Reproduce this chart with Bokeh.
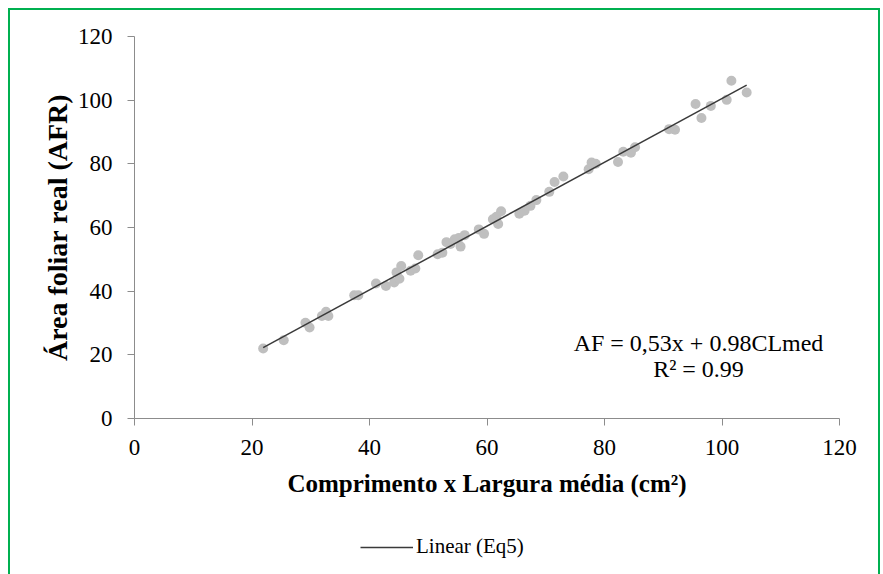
import numpy as np
from bokeh.plotting import figure
from bokeh.layouts import column
from bokeh.models import Range1d, FixedTicker, Label, Legend, LegendItem, ColumnDataSource
from bokeh.embed import file_html
from bokeh.resources import INLINE

# Data
cl_med = [21.9, 25.4, 29.1, 29.8, 31.9, 32.6, 33.0, 37.4, 38.1, 41.1, 42.8, 44.2,
          44.6, 45.4, 45.1, 47.0, 47.8, 48.3, 51.6, 52.4, 53.1, 53.8, 54.5, 55.2,
          55.5, 56.2, 58.6, 59.5, 61.0, 61.6, 61.9, 62.4, 65.5, 66.4, 67.4, 68.4,
          70.6, 71.5, 73.0, 77.3, 77.8, 78.5, 82.3, 83.2, 84.5, 85.2, 91.0, 92.0,
          95.5, 96.5, 98.1, 100.8, 101.6, 104.2]
afr = [22.0, 24.6, 30.1, 28.6, 32.2, 33.5, 32.2, 38.7, 38.7, 42.4, 41.6, 42.7,
       45.9, 47.9, 43.9, 46.4, 47.1, 51.3, 51.6, 52.1, 55.4, 54.8, 56.3, 56.7,
       54.0, 57.6, 59.4, 58.0, 62.6, 63.4, 61.1, 65.1, 64.3, 65.3, 66.8, 68.6,
       71.2, 74.3, 76.0, 78.3, 80.4, 80.0, 80.6, 83.8, 83.5, 85.2, 90.9, 90.7,
       98.8, 94.4, 98.2, 100.1, 106.1, 102.4]
axis_ticks = [0, 20, 40, 60, 80, 100, 120]
equation_text = "AF = 0,53x + 0.98CLmed"
r2_text = "R\u00b2 = 0.99"
legend_label = "Linear (Eq5)"
x_title = "Comprimento x Largura média (cm\u00b2)"
y_title = "Área foliar real (AFR)"

slope, intercept = np.polyfit(cl_med, afr, 1)
x_fit = [min(cl_med), max(cl_med)]
y_fit = [slope * v + intercept for v in x_fit]

SERIF = "Liberation Serif"
LINE_COLOR = "#3a3a3a"

p = figure(width=868, height=500, output_backend="svg", toolbar_location=None,
           x_range=Range1d(0, 120), y_range=Range1d(0, 120),
           min_border_left=124, min_border_right=39, min_border_top=26, min_border_bottom=92)
p.outline_line_color = None
p.xgrid.visible = False
p.ygrid.visible = False
p.background_fill_color = "white"
p.border_fill_color = "white"

for ax in (p.xaxis[0], p.yaxis[0]):
    ax.ticker = FixedTicker(ticks=axis_ticks)
    ax.axis_line_color = "#8c8c8c"
    ax.major_tick_line_color = "#8c8c8c"
    ax.major_tick_in = 0
    ax.major_tick_out = 7
    ax.minor_tick_line_color = None
    ax.major_label_text_font = SERIF
    ax.major_label_text_font_size = "23px"
    ax.major_label_text_color = "black"
    ax.axis_label_text_font = SERIF
    ax.axis_label_text_font_style = "bold"
    ax.axis_label_text_color = "black"

p.xaxis.axis_label = x_title
p.xaxis.axis_label_text_font_size = "25px"
p.xaxis.major_label_standoff = 14
p.xaxis.axis_label_standoff = 12
p.yaxis.axis_label = y_title
p.yaxis.axis_label_text_font_size = "28px"
p.yaxis.major_label_standoff = 15
p.yaxis.axis_label_standoff = 2

src = ColumnDataSource(dict(x=cl_med, y=afr))
p.scatter("x", "y", source=src, size=10, fill_color="#bfbfbf", line_color=None)
p.line(x_fit, y_fit, line_color=LINE_COLOR, line_width=1.5)

p.add_layout(Label(x=96.0, y=23.8, text=equation_text, text_align="center",
                   text_baseline="middle", text_font=SERIF, text_font_size="24px",
                   text_color="black"))
p.add_layout(Label(x=96.0, y=15.7, text=r2_text, text_align="center",
                   text_baseline="middle", text_font=SERIF, text_font_size="24px",
                   text_color="black"))

# Legend strip below the chart
pl = figure(width=868, height=64, output_backend="svg", toolbar_location=None,
            x_range=Range1d(0, 1), y_range=Range1d(0, 1),
            x_axis_type=None, y_axis_type=None, min_border=0)
pl.outline_line_color = None
pl.xgrid.visible = False
pl.ygrid.visible = False
leg_r = pl.line(x_fit, y_fit, line_color=LINE_COLOR, line_width=1.5)
legend = Legend(items=[LegendItem(label=legend_label, renderers=[leg_r])],
                location=(226, 15), orientation="horizontal",
                label_text_font=SERIF, label_text_font_size="21px",
                label_text_color="black",
                glyph_width=53, label_standoff=3, padding=0, margin=0,
                border_line_color=None, background_fill_alpha=0)
pl.add_layout(legend, "center")

layout = column(p, pl, spacing=0)
layout.styles = {"border": "2px solid #00b050", "margin-left": "8px", "margin-top": "8px"}

open("out.html", "w").write(file_html(layout, INLINE))
